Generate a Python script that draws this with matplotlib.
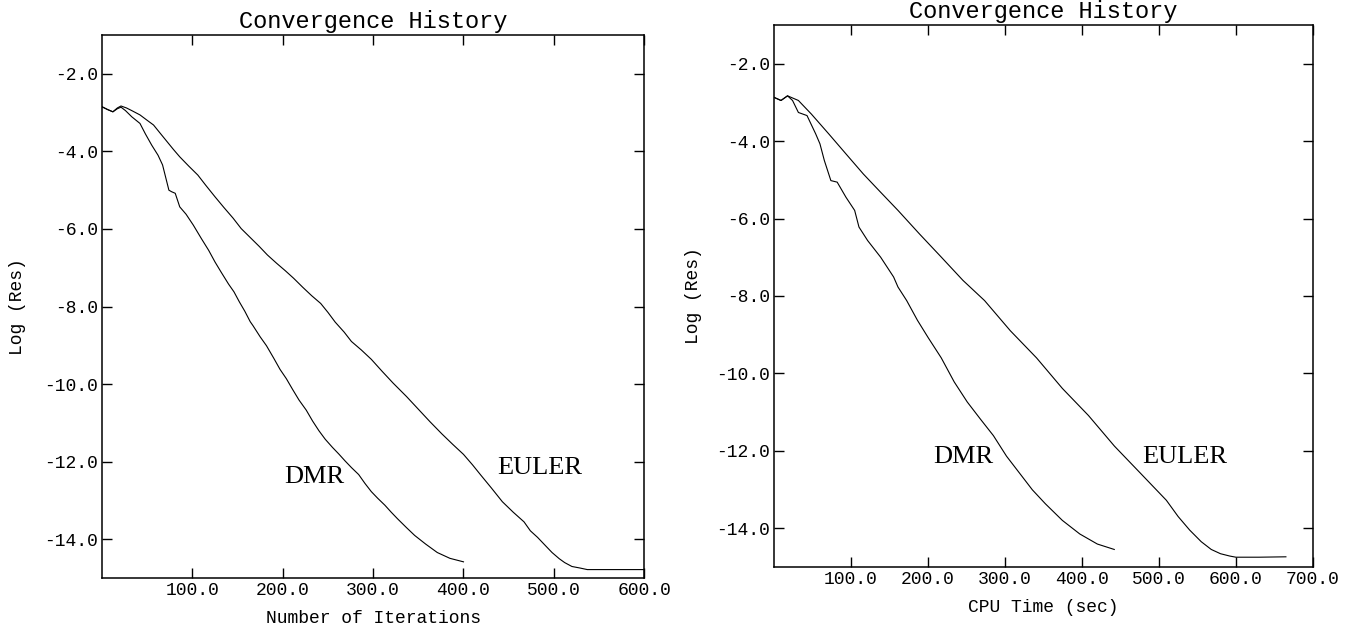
import matplotlib
matplotlib.use("Agg")
import matplotlib.pyplot as plt
from matplotlib.ticker import FormatStrFormatter

plt.rcParams["axes.unicode_minus"] = False
MONO = "Liberation Mono"
SERIF = "Liberation Serif"

# Residual history against iteration count
iter_dmr_x = [0, 6, 12, 17, 21, 26, 33, 42, 48, 55, 62, 67, 74, 77, 81, 86, 93, 101,
              110, 118, 125, 132, 140, 146, 152, 158, 164, 167, 175, 182, 190, 197,
              204, 211, 218, 226, 233, 240, 247, 255, 262, 269, 276, 284, 291, 298,
              305, 313, 320, 327, 337, 346, 358, 371, 385, 400]
iter_dmr_y = [-2.85, -2.92, -2.98, -2.90, -2.86, -2.95, -3.11, -3.28, -3.55, -3.84,
              -4.10, -4.35, -5.00, -5.04, -5.08, -5.43, -5.62, -5.90, -6.25, -6.55,
              -6.85, -7.12, -7.42, -7.62, -7.88, -8.12, -8.39, -8.49, -8.78, -9.01,
              -9.33, -9.62, -9.86, -10.14, -10.41, -10.67, -10.95, -11.20, -11.42,
              -11.63, -11.80, -11.98, -12.15, -12.33, -12.56, -12.77, -12.94, -13.12,
              -13.30, -13.47, -13.70, -13.90, -14.12, -14.34, -14.49, -14.58]

iter_euler_x = [0, 6, 12, 17, 21, 27, 33, 42, 50, 57, 65, 72, 79, 86, 96, 106, 115,
                125, 135, 145, 154, 164, 174, 183, 193, 203, 212, 222, 232, 242, 250,
                258, 268, 276, 287, 298, 310, 322, 337, 351, 363, 376, 388, 400, 410,
                419, 431, 443, 455, 467, 474, 482, 491, 498, 506, 512, 520, 529, 537,
                560, 580, 600]
iter_euler_y = [-2.85, -2.92, -2.98, -2.88, -2.83, -2.88, -2.95, -3.06, -3.20, -3.32,
                -3.55, -3.75, -3.95, -4.14, -4.38, -4.61, -4.88, -5.17, -5.45, -5.72,
                -5.99, -6.22, -6.45, -6.67, -6.88, -7.08, -7.27, -7.50, -7.72, -7.92,
                -8.15, -8.40, -8.66, -8.90, -9.12, -9.36, -9.67, -9.97, -10.32, -10.67,
                -10.97, -11.28, -11.55, -11.81, -12.08, -12.34, -12.68, -13.03, -13.30,
                -13.55, -13.78, -13.95, -14.17, -14.34, -14.50, -14.60, -14.70, -14.74,
                -14.78, -14.78, -14.78, -14.78]

# Residual history against CPU time
cpu_dmr_x = [0, 9, 17.5, 24, 31.6, 42.8, 54, 59.6, 65.3, 73.8, 82, 93.4, 104.7, 110.3,
             121.6, 138.5, 155.3, 161, 172.3, 186.3, 200.3, 217.2, 234, 251, 268, 285,
             302, 319, 335.6, 352.5, 374.6, 397.2, 420, 442]
cpu_dmr_y = [-2.87, -2.95, -2.83, -2.95, -3.26, -3.34, -3.81, -4.07, -4.50, -5.02,
             -5.06, -5.45, -5.79, -6.22, -6.57, -7.00, -7.51, -7.77, -8.12, -8.63,
             -9.08, -9.60, -10.22, -10.74, -11.18, -11.61, -12.14, -12.58, -13.01,
             -13.37, -13.80, -14.15, -14.41, -14.55]

cpu_euler_x = [0, 9, 17.5, 31.6, 48.4, 70.9, 93.4, 116, 138.4, 161, 189, 217.4, 245.5,
               273.5, 307, 341, 374.6, 408.5, 442.2, 476, 509.7, 525, 540, 555, 568,
               580, 592, 600, 630, 665]
cpu_euler_y = [-2.87, -2.95, -2.83, -2.95, -3.30, -3.81, -4.33, -4.85, -5.32, -5.79,
               -6.40, -7.00, -7.60, -8.12, -8.90, -9.60, -10.39, -11.09, -11.88,
               -12.58, -13.28, -13.70, -14.05, -14.35, -14.55, -14.66, -14.72, -14.75,
               -14.75, -14.74]

y_ticks = [-2, -4, -6, -8, -10, -12, -14]
iter_ticks = [100, 200, 300, 400, 500, 600]
cpu_ticks = [100, 200, 300, 400, 500, 600, 700]

fig = plt.figure(figsize=(13.64, 6.25), dpi=100)
ax1 = fig.add_axes([0.0748, 0.075, 0.3975, 0.869])
ax2 = fig.add_axes([0.5675, 0.093, 0.395, 0.867])


def style(ax, xmax, xticks, xlabel, ylabel_x, dmr_pos, euler_pos):
    ax.set_xlim(0, xmax)
    ax.set_ylim(-15, -1)
    ax.set_xticks(xticks)
    ax.set_yticks(y_ticks)
    ax.xaxis.set_major_formatter(FormatStrFormatter("%.1f"))
    ax.yaxis.set_major_formatter(FormatStrFormatter("%.1f"))
    ax.tick_params(direction="in", length=7, width=1.0, top=True, right=True,
                   labelsize=13, pad=3)
    for lab in ax.get_xticklabels() + ax.get_yticklabels():
        lab.set_family(MONO)
    for sp in ax.spines.values():
        sp.set_linewidth(1.1)
    ax.set_title("Convergence History", family=MONO, fontsize=17, pad=5)
    ax.set_xlabel(xlabel, family=MONO, fontsize=13, labelpad=8)
    ax.set_ylabel("Log (Res)", family=MONO, fontsize=13)
    ax.yaxis.set_label_coords(ylabel_x, 0.5)
    ax.text(dmr_pos[0], dmr_pos[1], "DMR", family=SERIF, fontsize=19,
            ha="center", va="center")
    ax.text(euler_pos[0], euler_pos[1], "EULER", family=SERIF, fontsize=19,
            ha="center", va="center")


ax1.plot(iter_dmr_x, iter_dmr_y, color="black", lw=0.8)
ax1.plot(iter_euler_x, iter_euler_y, color="black", lw=0.8)
style(ax1, 600, iter_ticks, "Number of Iterations", -0.140, (235, -12.4), (484, -12.15))

ax2.plot(cpu_dmr_x, cpu_dmr_y, color="black", lw=0.8)
ax2.plot(cpu_euler_x, cpu_euler_y, color="black", lw=0.8)
style(ax2, 700, cpu_ticks, "CPU Time (sec)", -0.134, (246, -12.17), (533, -12.15))

fig.savefig("out.png", dpi=100)
